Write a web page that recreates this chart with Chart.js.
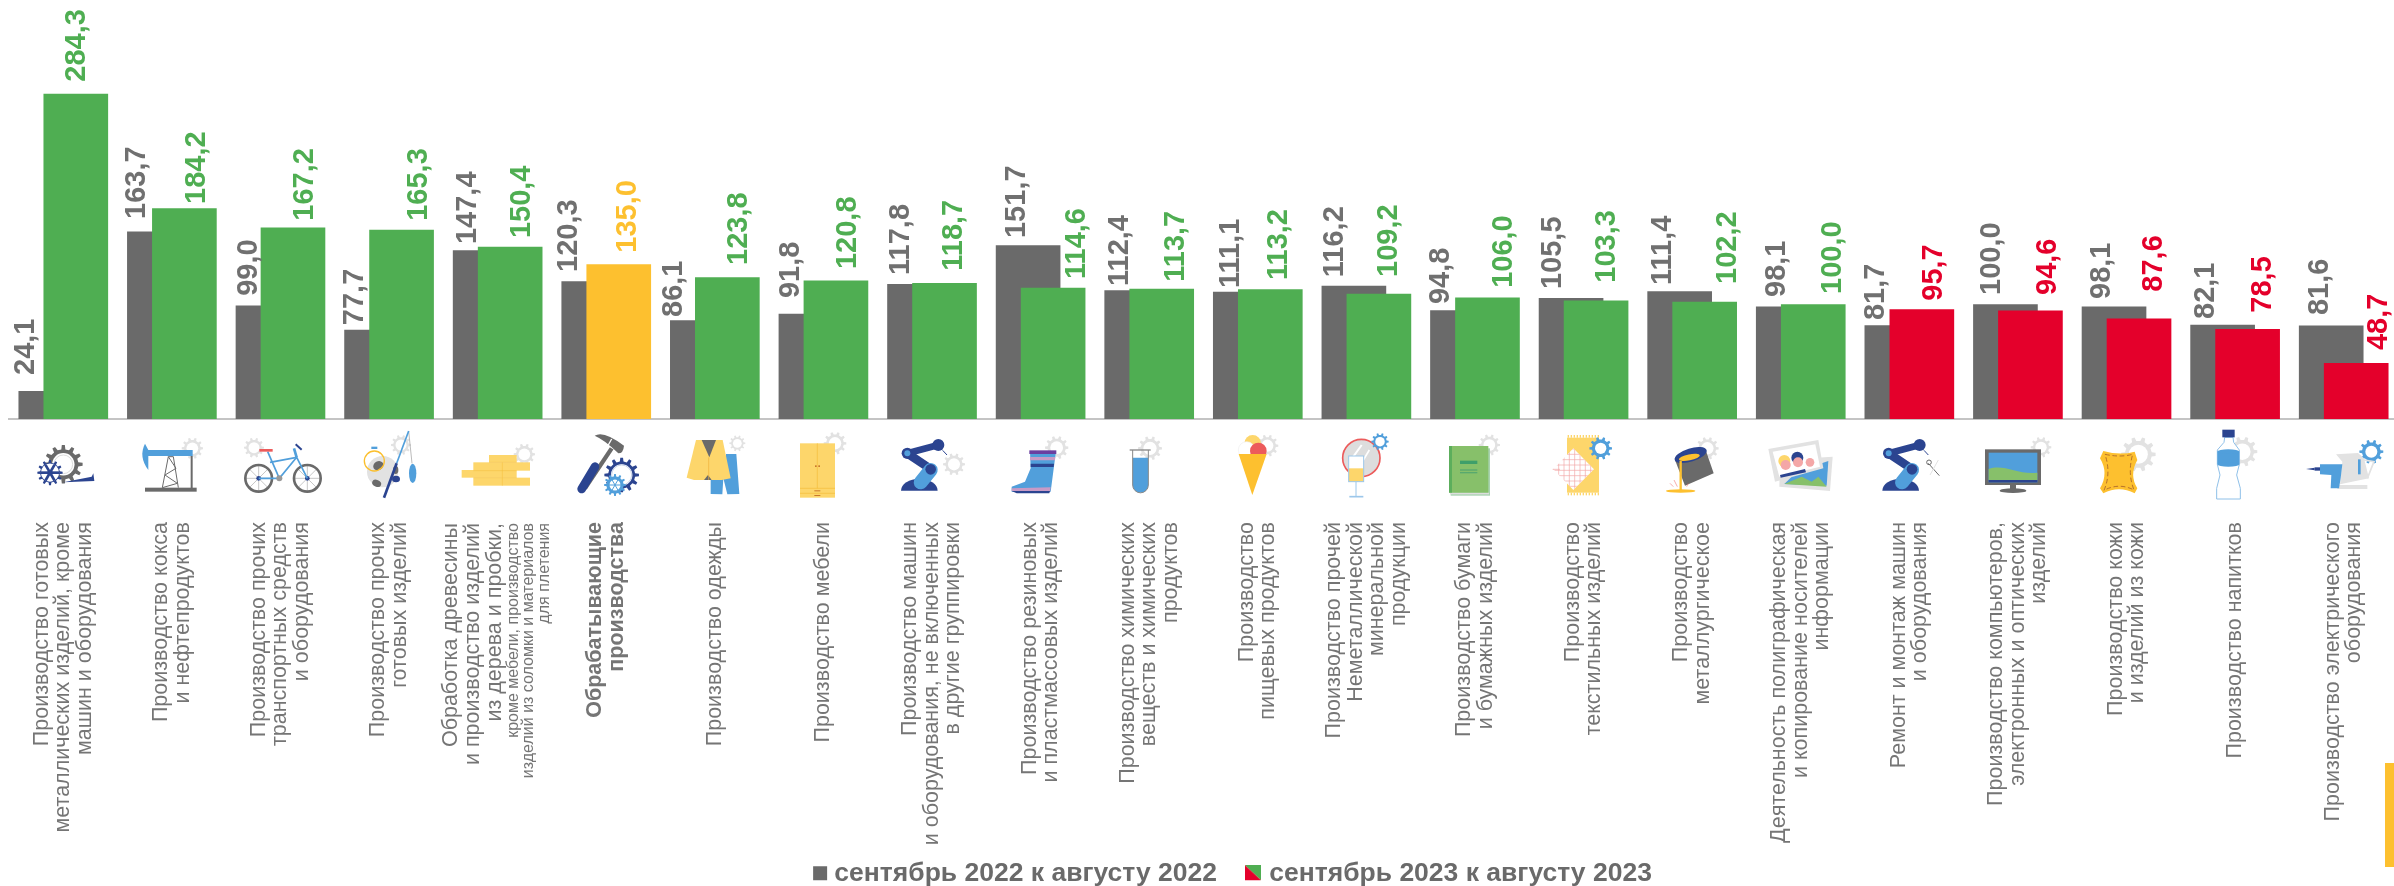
<!DOCTYPE html>
<html lang="ru"><head><meta charset="utf-8">
<style>html,body{margin:0;padding:0;background:#fff;overflow:hidden;width:2394px;height:886px}canvas{display:block}</style>
<script src="https://cdn.jsdelivr.net/npm/chart.js@4/dist/chart.umd.min.js"></script>
</head><body><canvas id="c" width="2398" height="886"></canvas>
<script>
const categories = [
 ["Производство готовых","металлических изделий, кроме","машин и оборудования"],
 ["Производство кокса","и нефтепродуктов"],
 ["Производство прочих","транспортных средств","и оборудования"],
 ["Производство прочих","готовых изделий"],
 ["Обработка древесины","и производство изделий","из дерева и пробки,"],
 ["Обрабатывающие","производства"],
 ["Производство одежды"],
 ["Производство мебели"],
 ["Производство машин","и оборудования, не включенных","в другие группировки"],
 ["Производство резиновых","и пластмассовых изделий"],
 ["Производство химических","веществ и химических","продуктов"],
 ["Производство","пищевых продуктов"],
 ["Производство прочей","Неметаллической","минеральной","продукции"],
 ["Производство бумаги","и бумажных изделий"],
 ["Производство","текстильных изделий"],
 ["Производство","металлургическое"],
 ["Деятельность полиграфическая","и копирование носителей","информации"],
 ["Ремонт и монтаж машин","и оборудования"],
 ["Производство компьютеров,","электронных и оптических","изделий"],
 ["Производство кожи","и изделий из кожи"],
 ["Производство напитков"],
 ["Производство электрического","оборудования"]
];
const woodNote = ["кроме мебели, производство","изделий из соломки и материалов","для плетения"];
const values2022 = [24.1,163.7,99.0,77.7,147.4,120.3,86.1,91.8,117.8,151.7,112.4,111.1,116.2,94.8,105.5,111.4,98.1,81.7,100.0,98.1,82.1,81.6];
const values2023 = [284.3,184.2,167.2,165.3,150.4,135.0,123.8,120.8,118.7,114.6,113.7,113.2,109.2,106.0,103.3,102.2,100.0,95.7,94.6,87.6,78.5,48.7];
const seriesNames = ["сентябрь 2022 к августу 2022","сентябрь 2023 к августу 2023"];
const grayDx = [-25.5,-23.6,-19.6,-22.1,-18.3,-25.9,-28.9,-21,-20,-12.1,-17.7,-15.6,-19.8,-22.4,-19,-17.6,-12.1,-21.7,-14.3,-12.8,-17.4,-12];
const grayGap = [16.5,13,10,5,6.5,9.5,3.6,16,9.4,7.6,4.5,4,9,6.6,9.4,6.7,9.9,5.6,9.7,7.9,6.2,10.7];
const newDx = [.5,11.4,11.5,16.3,10.7,8.6,10.6,11,8.9,22.9,13.3,7.7,8.8,15.3,10,22.4,18.9,11.3,16.7,14.2,14.6,22];
const newGap = [12.3,4.5,7.2,9.3,9,12,12.5,11.9,12.6,9,7.3,9.6,17.2,10,18.2,18.2,10.7,8.9,15.9,27.2,16.6,13.3];

const GRAY='#6a6a6a',GREEN='#4fae52',RED='#e4002b',YEL='#fdc02f',BLUE='#519fdb',NAVY='#2b4490',LG='#e2e2e2',SAND='#fdd66b';
const FONT='"Liberation Sans", Arial, sans-serif';
const colorOf=i=>i===5?YEL:(values2023[i]>=100?GREEN:RED);

class ShiftedCategory extends Chart.CategoryScale{
  getPixelForValue(v,i){return super.getPixelForValue(v,i)+(this.options.shift||0);}
  _computeLabelItems(area){
    const items=super._computeLabelItems(area);
    items.forEach(it=>{if(Array.isArray(it.label))it.textOffset-=(it.label.length-1)/2*it.font.lineHeight;});
    return items;
  }
}
ShiftedCategory.id='shiftedCategory';
ShiftedCategory.defaults=Chart.CategoryScale.defaults;
Chart.register(ShiftedCategory);

function gear(c,x,y,r,col,hole=.55,n=10){
  c.fillStyle=col;c.beginPath();
  for(let k=0;k<n;k++){const a=k*2*Math.PI/n,w=Math.PI/n;
    [[-.52,.78],[-.3,1],[.3,1],[.52,.78]].forEach(p=>{const t=a+p[0]*w*1.0,R=r*p[1];c.lineTo(x+R*Math.cos(t),y+R*Math.sin(t));});}
  c.closePath();c.fill();
  c.fillStyle='#fff';c.beginPath();c.arc(x,y,r*hole,0,7);c.fill();
}
function poly(c,col,pts){c.fillStyle=col;c.beginPath();pts.forEach(p=>c.lineTo(p[0],p[1]));c.closePath();c.fill();}
function line(c,col,w,pts,cap='butt'){c.strokeStyle=col;c.lineWidth=w;c.lineCap=cap;c.beginPath();pts.forEach(p=>c.lineTo(p[0],p[1]));c.stroke();}
function circ(c,col,x,y,r){c.fillStyle=col;c.beginPath();c.arc(x,y,r,0,7);c.fill();}
function ell(c,col,x,y,rx,ry,rot=0){c.fillStyle=col;c.beginPath();c.ellipse(x,y,rx,ry,rot,0,7);c.fill();}
function rect(c,col,x0,y0,x1,y1){c.fillStyle=col;c.fillRect(x0,y0,x1-x0,y1-y0);}
function robot(c,d){
  c.fillStyle=NAVY;c.beginPath();c.ellipse(1318+d,197,55,36,0,Math.PI,2*Math.PI);c.fill();
  line(c,NAVY,26,[[1352+d,132],[1282+d,85]],'round');
  line(c,NAVY,20,[[1282+d,85],[1375+d,60]],'round');
  circ(c,NAVY,1375+d,60,18);
  line(c,NAVY,3,[[1388+d,76],[1401+d,90]]);
  line(c,BLUE,42,[[1322+d,172],[1352+d,135]],'round');
  circ(c,NAVY,1352+d,133,16);
  circ(c,NAVY,1282+d,85,17);circ(c,BLUE,1282+d,85,9);
}
const icons=[
 [0,c=>{gear(c,190,118,58,GRAY,.58,12);c.strokeStyle='#ddd';c.lineWidth=3;c.beginPath();c.arc(190,118,28,0,7);c.stroke();
   poly(c,NAVY,[[190,172],[275,155],[280,145],[283,168]]);
   gear(c,150,143,38,NAVY,.72,12);circ(c,NAVY,150,143,8);
   for(let k=0;k<6;k++){const a=k*Math.PI/3;line(c,NAVY,8,[[150,143],[150+27*Math.cos(a),143+27*Math.sin(a)]]);}}],
 [0,c=>{gear(c,577,70,32,LG);rect(c,BLUE,440,75,578,93);
   c.fillStyle=BLUE;c.beginPath();c.moveTo(435,56);c.quadraticCurveTo(415,95,445,135);c.lineTo(445,75);c.closePath();c.fill();
   line(c,GRAY,3,[[487,188],[505,95],[520,95],[535,188]]);line(c,GRAY,3,[[505,95],[528,130],[495,150],[532,175],[487,188]]);
   rect(c,GRAY,572,93,578,190);rect(c,GRAY,435,188,590,200);}],
 [0,c=>{gear(c,762,68,30,LG);
   [776,922].forEach(x=>{for(let k=0;k<4;k++){const a=k*Math.PI/4;line(c,'#aaa',2,[[x-38*Math.cos(a),160-38*Math.sin(a)],[x+38*Math.cos(a),160+38*Math.sin(a)]]);}
     c.strokeStyle=GRAY;c.lineWidth=8;c.beginPath();c.arc(x,160,40,0,7);c.stroke();circ(c,NAVY,x,160,7);});
   line(c,BLUE,5,[[776,160],[838,160],[890,97],[922,160]]);line(c,BLUE,5,[[803,80],[838,160]]);line(c,BLUE,5,[[810,112],[890,97]]);
   line(c,BLUE,8,[[890,97],[882,70]]);line(c,NAVY,6,[[887,58],[905,74]]);rect(c,'#ec5b5b',778,72,818,80);circ(c,'#999',838,160,9);}],
 [0,c=>{gear(c,1203,60,30,LG);circ(c,LG,1148,140,47);ell(c,GRAY,1135,122,16,13,-.5);ell(c,GRAY,1130,175,14,10,.4);ell(c,GRAY,1187,135,8,12);
   c.strokeStyle='#fbbf2d';c.lineWidth=4;c.beginPath();c.arc(1123,108,30,0,7);c.stroke();rect(c,BLUE,1114,65,1132,72);
   line(c,'#999',2,[[1226,18],[1236,115]]);line(c,BLUE,5,[[1226,18],[1190,115]]);line(c,NAVY,8,[[1190,115],[1152,218]]);
   ell(c,NAVY,1188,162,12,10);ell(c,BLUE,1238,145,11,29);}],
 [480,c=>{gear(c,133,88,32,LG);
   [[27,90,110,112],[-20,112,150,137],[-55,135,110,158],[-20,158,150,182]].forEach(r=>rect(c,SAND,...r));
   [[27,112,110],[-20,137,110],[-20,158,110]].forEach(r=>line(c,'#f4bc3b',1.5,[[r[0],r[1]],[r[2],r[1]]]));
   line(c,'#f4bc3b',1.5,[[67,112],[67,182]]);}],
 [480,c=>{line(c,GRAY,13,[[315,190],[395,70]]);line(c,NAVY,26,[[305,192],[345,125]],'round');
   c.fillStyle=GRAY;c.beginPath();c.moveTo(344,32);c.quadraticCurveTo(370,15,432,62);c.quadraticCurveTo(430,85,415,85);c.quadraticCurveTo(375,45,344,32);c.fill();
   line(c,'#fff',4,[[395,42],[378,72]]);
   gear(c,425,150,52,NAVY,.62,12);c.strokeStyle='#c8d4ea';c.lineWidth=3;c.beginPath();c.arc(425,150,30,0,7);c.stroke();
   gear(c,405,180,33,BLUE,.5,12);for(let k=0;k<6;k++){const a=k*Math.PI/3;line(c,BLUE,3,[[405,180],[405+20*Math.cos(a),180+20*Math.sin(a)]]);}}],
 [480,c=>{gear(c,772,55,24,LG);
   poly(c,BLUE,[[692,160],[738,160],[738,87],[769,87],[778,207],[742,208],[730,160],[727,208],[692,207]]);
   poly(c,SAND,[[648,45],[728,45],[752,160],[725,165],[642,165],[620,158]]);
   poly(c,GRAY,[[665,45],[708,45],[688,97]]);poly(c,GRAY,[[672,165],[695,165],[684,150]]);
   line(c,'#eeb13a',2,[[686,97],[686,165]]);}],
 [480,c=>{gear(c,1065,55,34,LG);rect(c,SAND,960,55,1065,218);
   line(c,'#f4bc3b',2,[[1012,55],[1012,190]]);line(c,'#f4bc3b',2,[[960,190],[1065,190]]);line(c,'#f4bc3b',2,[[960,205],[1065,205]]);
   rect(c,'#c9772c',1005,121,1010,126);rect(c,'#c9772c',1015,121,1020,126);rect(c,'#c9772c',1003,196,1021,199);rect(c,'#c9772c',1003,210,1021,213);}],
 [480,c=>{gear(c,1422,118,33,LG);robot(c,0);}],
 [960,c=>{gear(c,290,68,35,LG);
   poly(c,BLUE,[[210,78],[288,78],[272,200],[155,200],[155,185],[195,170],[212,130]]);
   rect(c,'#6a3fa0',208,76,289,87);
   poly(c,'#c79ac6',[[210,96],[286,96],[285,106],[210,106]]);poly(c,NAVY,[[212,116],[282,116],[281,126],[212,126]]);
   poly(c,'#c79ac6',[[155,190],[272,187],[270,200],[155,198]]);poly(c,NAVY,[[155,198],[270,198],[268,205],[170,205]]);}],
 [960,c=>{gear(c,570,70,36,LG);
   c.fillStyle=BLUE;c.beginPath();c.moveTo(518,98);c.lineTo(565,98);c.lineTo(565,180);c.arc(541.5,180,23.5,0,Math.PI);c.closePath();c.fill();
   c.strokeStyle='#888';c.lineWidth=3;c.beginPath();c.moveTo(518,75);c.lineTo(518,180);c.arc(541.5,180,23.5,Math.PI,0,true);c.lineTo(565,75);c.stroke();line(c,'#888',4,[[509,75],[572,75]]);}],
 [960,c=>{gear(c,922,62,33,LG);circ(c,SAND,878,55,25);circ(c,'#fff',860,75,25);c.strokeStyle='#eee';c.lineWidth=2;c.stroke();circ(c,'#ec5b5b',895,78,25);
   poly(c,YEL,[[836,87],[920,87],[877,210]]);}],
 [960,c=>{circ(c,'#ddd',1204,99,56);c.strokeStyle='#ec5b5b';c.lineWidth=5;c.stroke();gear(c,1260,50,26,BLUE,.55,10);
   line(c,'#fff',6,[[1205,60],[1180,95]]);line(c,'#fff',5,[[1228,75],[1210,105]]);
   rect(c,'#fff',1166,93,1211,170);rect(c,SAND,1166,130,1211,170);c.strokeStyle='#9cc7ea';c.lineWidth=3;c.strokeRect(1166,93,45,77);
   line(c,'#9cc7ea',3,[[1188,170],[1188,215]]);line(c,'#9cc7ea',5,[[1168,215],[1210,215]]);}],
 [1440,c=>{gear(c,148,60,32,LG);rect(c,'#a8d3b0',32,70,150,212);rect(c,'#ddd',30,203,147,208);rect(c,'#87c06a',27,63,145,203);rect(c,'#5cae5c',27,63,36,203);
   rect(c,'#3f9f6a',60,107,112,117);rect(c,'#58a96e',60,133,112,137);rect(c,'#58a96e',60,141,112,145);}],
 [1440,c=>{rect(c,SAND,381,38,477,203);for(let x=383;x<477;x+=9){rect(c,SAND,x,30,x+4,38);rect(c,SAND,x,203,x+4,211);}
   poly(c,'#fff',[[340,133],[400,70],[462,133],[400,195]]);c.save();c.beginPath();c.moveTo(340,133);c.lineTo(400,70);c.lineTo(462,133);c.lineTo(400,195);c.closePath();c.clip();
   for(let x=340;x<470;x+=16)line(c,'#f2a6a6',2,[[x,60],[x,200]]);for(let y=72;y<200;y+=16)line(c,'#f2a6a6',2,[[335,y],[465,y]]);c.restore();
   line(c,'#f2a6a6',2,[[338,133],[360,133]]);
   gear(c,482,70,34,BLUE,.5,10);}],
 [1440,c=>{gear(c,802,70,34,LG);poly(c,GRAY,[[705,105],[797,75],[821,145],[735,182]]);
   ell(c,NAVY,752,90,50,20,-.3);ell(c,YEL,748,97,32,9,-.2);line(c,YEL,7,[[722,108],[722,195]]);ell(c,YEL,722,198,44,5);
   [[690,175,700,185],[702,165,712,185],[745,175,740,185]].forEach(s=>line(c,'#ec5b5b',1.5,[[s[0],s[1]],[s[2],s[3]]]));}],
 [1440,c=>{poly(c,LG,[[1020,105],[1178,95],[1170,198],[1018,185]]);poly(c,BLUE,[[1070,140],[1165,108],[1160,182],[1033,177]]);poly(c,'#87c06a',[[1033,177],[1085,155],[1115,170],[1135,155],[1160,185]]);
   poly(c,LG,[[985,72],[1135,45],[1150,130],[1005,170]]);poly(c,'#fff',[[998,80],[1126,58],[1140,125],[1018,155]]);
   circ(c,SAND,1033,108,18);circ(c,'#f4a7a7',1037,120,15);circ(c,NAVY,1072,98,18);circ(c,'#f4a7a7',1074,112,15);poly(c,NAVY,[[1020,150],[1095,132],[1098,142],[1022,158]]);circ(c,'#f4a7a7',1110,112,13);}],
 [1440,c=>{robot(c,64);line(c,GRAY,3,[[1465,115],[1498,152]]);c.strokeStyle=GRAY;c.lineWidth=3;c.beginPath();c.arc(1467,112,7,0,7);c.stroke();line(c,LG,3,[[1470,150],[1495,105]]);}],
 [1894,c=>{gear(c,441,67,31,LG);rect(c,GRAY,273,73,441,180);rect(c,BLUE,284,83,430,172);
   c.fillStyle='#87c06a';c.beginPath();c.moveTo(284,132);c.bezierCurveTo(330,115,370,150,430,143);c.lineTo(430,165);c.lineTo(284,165);c.closePath();c.fill();
   rect(c,NAVY,284,165,430,172);rect(c,GRAY,348,180,366,192);ell(c,GRAY,357,197,40,7);}],
 [1894,c=>{gear(c,733,88,52,LG);
   c.fillStyle=YEL;c.beginPath();c.moveTo(628,78);c.quadraticCurveTo(678,92,722,80);c.lineTo(730,105);c.quadraticCurveTo(705,150,730,190);c.lineTo(722,205);c.quadraticCurveTo(675,180,628,205);c.lineTo(618,190);c.quadraticCurveTo(645,145,618,100);c.closePath();c.fill();
   c.setLineDash([14,8]);c.strokeStyle='#a8612a';c.lineWidth=2.5;c.beginPath();c.moveTo(633,88);c.quadraticCurveTo(678,98,716,88);c.quadraticCurveTo(700,145,720,195);c.quadraticCurveTo(675,172,630,196);c.quadraticCurveTo(652,145,633,88);c.stroke();c.setLineDash([]);}],
 [1894,c=>{gear(c,1045,80,45,LG);
   c.beginPath();[[992,37],[1017,37],[1019,52],[1036,75],[1036,118],[1028,150],[1039,190],[1039,222],[968,222],[968,190],[978,150],[970,118],[970,75],[990,52]].forEach(p=>c.lineTo(p[0],p[1]));c.closePath();
   c.fillStyle='#fff';c.fill();c.strokeStyle='#8fc0e8';c.lineWidth=3;c.stroke();
   poly(c,BLUE,[[970,80],[1036,80],[1036,118],[970,118]]);ell(c,BLUE,1003,80,33,7);ell(c,BLUE,1003,118,33,7);
   rect(c,NAVY,985,14,1022,37);}],
 [1894,c=>{gear(c,1432,80,36,BLUE,.5,10);
   poly(c,LG,[[1326,88],[1392,84],[1410,100],[1425,160],[1338,178],[1345,110]]);rect(c,LG,1330,180,1420,192);line(c,LG,5,[[1410,105],[1440,110],[1420,160]]);
   rect(c,BLUE,1392,103,1400,148);
   rect(c,NAVY,1262,127,1282,137);poly(c,NAVY,[[1236,132],[1262,128],[1262,136]]);
   poly(c,BLUE,[[1278,118],[1345,118],[1340,160],[1335,190],[1310,190],[1312,150],[1278,148]]);}],
];

const decor={id:'decor',
 afterLayout(ch){const L=ch.legend;if(L){const dy=873-(L.options.labels.padding+13)-L.top;L.top+=dy;L.bottom+=dy;L.left+=30;L.right+=30;}
   ch.scales.x.bottom=886;},
 afterDraw(ch){const c=ch.ctx;c.save();
  [[0,values2022,grayDx,grayGap,()=>'#707070'],[1,values2023,newDx,newGap,colorOf]].forEach(([d,vals,dx,gap,col])=>{
    const m=ch.getDatasetMeta(d);
    vals.forEach((v,i)=>{const b=m.data[i];c.save();c.translate(b.x+dx[i],b.y-gap[i]);c.rotate(-Math.PI/2);
      c.font='bold 29px '+FONT;c.fillStyle=col(i);c.textAlign='left';c.textBaseline='middle';
      c.fillText(v.toFixed(1).replace('.',','),0,1);c.restore();});
  });
  const xs=ch.scales.x,x4=xs.getPixelForTick(4);
  const rows=[...categories[4].map((t,k)=>[t,[-46.3,-24.3,-2.8][k],21.5]),...woodNote.map((t,k)=>[t,[16.2,31.2,47.2][k],16])];
  rows.forEach(([t,off,sz])=>{c.save();c.translate(x4+off,523);c.rotate(-Math.PI/2);c.font=sz+'px '+FONT;c.fillStyle='#757575';c.textAlign='right';c.textBaseline='middle';c.fillText(t,0,0);c.restore();});
  icons.forEach(([x0,fn])=>{c.save();c.translate(x0,425);c.scale(1/3,1/3);fn(c);c.restore();});
  c.fillStyle=YEL;c.fillRect(2385,763,9,104);
  c.restore();
 }};

function marker(draw){const k=document.createElement('canvas');k.width=20;k.height=16;draw(k.getContext('2d'));return k;}
const markOld=marker(g=>{g.fillStyle=GRAY;g.fillRect(5,1,14,14);});
const markNew=marker(g=>{poly(g,GREEN,[[2,0],[18,0],[18,15]]);poly(g,RED,[[2,0],[18,15],[2,15]]);});

new Chart(document.getElementById('c'),{
 type:'bar',
 data:{labels:categories,datasets:[
  {label:seriesNames[0],data:values2022,backgroundColor:GRAY,xAxisID:'xOld',order:2,barThickness:64,grouped:false},
  {label:seriesNames[1],data:values2023,backgroundColor:values2023.map((v,i)=>colorOf(i)),xAxisID:'xNew',order:1,barThickness:64,grouped:false}
 ]},
 options:{responsive:false,animation:false,
  layout:{padding:{left:9,right:0,top:0,bottom:0}},
  plugins:{tooltip:{enabled:false},
   legend:{display:true,position:'bottom',
    labels:{color:GRAY,font:{family:FONT,size:26.5,weight:'bold'},usePointStyle:true,boxWidth:6,boxHeight:26,padding:33,
     generateLabels:()=>[{text:seriesNames[0],pointStyle:markOld,fontColor:GRAY,fillStyle:GRAY,strokeStyle:'transparent',datasetIndex:0},
                         {text:seriesNames[1],pointStyle:markNew,fontColor:GRAY,fillStyle:GREEN,strokeStyle:'transparent',datasetIndex:1}]}}},
  scales:{
   y:{display:false,min:0,max:419/1.143},
   xOld:{type:'shiftedCategory',display:false,shift:-12.5},
   xNew:{type:'shiftedCategory',display:false,shift:12.5},
   x:{type:'shiftedCategory',position:'bottom',offset:true,shift:0,
      border:{display:true,color:'#c4c4c4',width:2},grid:{display:false,drawTicks:false},
      afterFit(s){s.height=886-419-(s.chart.legend?s.chart.legend.height:0);s.paddingLeft=0;s.paddingRight=0;},
      ticks:{autoSkip:false,minRotation:90,maxRotation:90,padding:103,color:'#757575',
       font:ctx=>({family:FONT,size:21.5,lineHeight:1,weight:ctx.index===5?'bold':'normal'}),
       callback(v,i){return i===4?'':this.getLabelForValue(v);}}}
  }},
 plugins:[decor]
});
</script></body></html>
